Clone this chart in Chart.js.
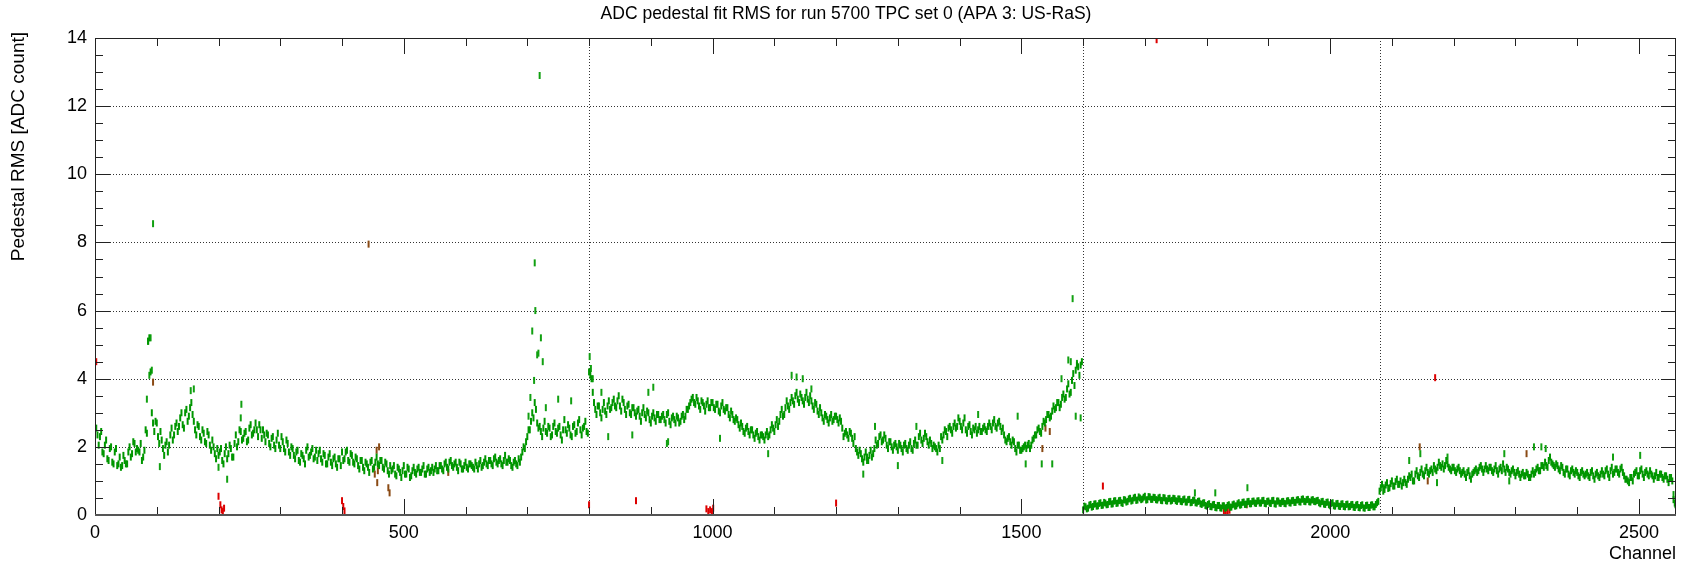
<!DOCTYPE html>
<html>
<head>
<meta charset="utf-8">
<script src="https://cdn.jsdelivr.net/npm/chart.js@4.4.1/dist/chart.umd.min.js"></script>
<style>
  html, body { margin: 0; padding: 0; background: #fff; }
  #wrap { width: 1692px; height: 566px; }
</style>
</head>
<body>
<div id="wrap"><canvas id="rmsChart" width="1692" height="566"></canvas></div>
<script>
// Pedestal RMS per channel: one array for channels 0,4,8,...
// of each plane and one for the channels in between (2,6,10,...)
const channelStep = 4;
const midOffset = 2;
const planeFirstChannel = [0, 800, 1600, 2080];
const channelTicks = [0, 500, 1000, 1500, 2000, 2500];

const rmsPlaneU = [
  2.9, 2.35, 2.3, 1.85, 2.05, 1.65, 1.95, 1.55, 1.85, 1.45,
  1.7, 1.45, 1.6, 1.5, 2.0, 1.8, 2.1, 1.95, 1.85, 1.6,
  1.9, 2.4, 5.2, 3.0, 2.45, 2.7, 2.1, 2.2, 1.75, 2.15,
  2.05, 2.55, 2.35, 2.7, 2.6, 3.0, 2.55, 3.1, 2.9, 3.3,
  2.75, 2.35, 2.6, 2.2, 2.4, 2.1, 2.35, 1.9, 2.0, 1.65,
  1.75, 1.95, 1.5, 2.0, 1.8, 1.95, 1.7, 2.35, 2.15, 2.45,
  2.25, 2.45, 2.2, 2.65, 2.4, 2.7, 2.3, 2.5, 2.5, 2.15,
  2.35, 2.0, 2.3, 1.95, 2.4, 1.95, 2.15, 1.85, 2.1, 1.75,
  1.95, 1.65, 1.9, 1.55, 1.75, 1.5, 2.0, 1.75, 1.95, 1.7,
  1.6, 1.9, 1.55, 1.75, 1.5, 1.8, 1.45, 1.7, 1.4, 1.65,
  1.85, 1.65, 1.9, 1.55, 1.75, 1.5, 1.65, 1.35, 1.6, 1.3,
  1.5, 1.25, 1.6, 1.4, 1.7, 1.45, 1.6, 1.35, 1.5, 1.2,
  1.3, 1.45, 1.15, 1.35, 1.1, 1.45, 1.2, 1.35, 1.15, 1.4,
  1.2, 1.4, 1.25, 1.45, 1.2, 1.4, 1.3, 1.25, 1.45, 1.3,
  1.45, 1.3, 1.55, 1.35, 1.6, 1.4, 1.55, 1.3, 1.5, 1.35,
  1.55, 1.35, 1.5, 1.4, 1.55, 1.35, 1.6, 1.45, 1.65, 1.45,
  1.6, 1.45, 1.7, 1.5, 1.65, 1.45, 1.75, 1.55, 1.6, 1.4,
  1.6, 1.45, 1.55, 1.85, 1.95, 2.3, 2.5, 3.0, 3.3, 2.7,
  2.6, 2.3, 2.75, 2.4, 2.55, 2.35, 2.7, 2.4, 2.6, 2.2,
  2.8, 2.4, 2.55, 2.3, 2.65, 2.45, 2.8, 2.35, 2.6, 2.45
];
const rmsPlaneUMid = [
  2.55, 2.05, 2.45, 1.8, 2.2, 1.6, 2.0, 1.5, 1.95, 1.5,
  1.4, 1.75, 1.5, 1.85, 1.7, 2.15, 1.85, 1.9, 2.1, 1.7,
  2.5, 5.1, 4.2, 2.7, 2.75, 2.3, 2.45, 1.95, 2.05, 1.85,
  2.35, 2.2, 2.6, 2.45, 2.85, 2.65, 3.0, 2.75, 3.15, 2.95,
  2.5, 2.65, 2.3, 2.5, 2.15, 2.45, 2.05, 2.2, 1.8, 1.95,
  1.85, 1.6, 1.8, 1.65, 2.05, 1.7, 2.1, 2.0, 2.5, 2.2,
  2.4, 2.15, 2.55, 2.35, 2.5, 2.5, 2.65, 2.25, 2.35, 2.4,
  2.1, 2.25, 2.05, 2.2, 2.05, 2.3, 1.95, 2.2, 1.85, 2.0,
  1.75, 1.85, 1.6, 1.8, 1.65, 1.9, 1.7, 1.85, 1.65, 1.9,
  1.8, 1.65, 1.8, 1.5, 1.7, 1.55, 1.65, 1.5, 1.65, 1.45,
  1.6, 1.85, 1.6, 1.8, 1.55, 1.7, 1.45, 1.6, 1.4, 1.55,
  1.4, 1.55, 1.35, 1.55, 1.5, 1.6, 1.4, 1.55, 1.3, 1.45,
  1.35, 1.2, 1.4, 1.25, 1.3, 1.2, 1.4, 1.1, 1.3, 1.25,
  1.35, 1.25, 1.35, 1.2, 1.35, 1.25, 1.4, 1.35, 1.3, 1.45,
  1.35, 1.5, 1.4, 1.55, 1.45, 1.5, 1.4, 1.55, 1.35, 1.45,
  1.4, 1.5, 1.45, 1.35, 1.45, 1.5, 1.4, 1.55, 1.5, 1.6,
  1.5, 1.65, 1.55, 1.6, 1.5, 1.6, 1.55, 1.65, 1.45, 1.55,
  1.5, 1.65, 1.7, 2.0, 2.15, 2.5, 2.75, 2.85, 3.1, 2.55,
  2.45, 2.55, 2.45, 2.6, 2.3, 2.6, 2.45, 2.55, 2.35, 2.5,
  2.5, 2.65, 2.35, 2.6, 2.4, 2.7, 2.5, 2.55, 2.75, 2.4
];

const rmsPlaneV = [
  4.2, 4.0, 3.3, 2.95, 3.2, 2.85, 3.3, 2.95, 3.35, 3.15,
  3.4, 3.15, 3.5, 3.05, 3.3, 2.95, 3.25, 2.95, 3.15, 2.9,
  3.1, 2.75, 3.15, 2.85, 3.0, 2.7, 3.0, 2.75, 2.95, 2.8,
  2.95, 2.7, 3.0, 2.65, 2.9, 2.7, 2.85, 2.75, 2.95, 2.9,
  3.1, 3.3, 3.45, 3.25, 3.35, 3.1, 3.3, 3.05, 3.35, 3.15,
  3.3, 3.1, 3.25, 3.0, 3.3, 3.05, 3.15, 2.85, 2.95, 2.75,
  2.8, 2.55, 2.6, 2.4, 2.6, 2.35, 2.5, 2.25, 2.45, 2.2,
  2.35, 2.2, 2.45, 2.35, 2.65, 2.45, 2.8, 2.75, 3.1, 2.95,
  3.35, 3.1, 3.45, 3.25, 3.6, 3.3, 3.45, 3.25, 3.6, 3.3,
  3.35, 3.1, 3.25, 2.95, 3.0, 2.75, 2.9, 2.7, 2.95, 2.8,
  2.9, 2.7, 2.75, 2.3, 2.45, 2.25, 2.4, 2.1, 1.95, 1.75,
  1.8, 1.55, 1.85, 1.6, 1.9, 1.8, 2.2, 2.1, 2.35, 2.2,
  2.25, 1.95, 2.15, 1.9, 2.1, 1.9, 2.05, 1.85, 2.1, 1.9,
  2.15, 1.9, 2.2, 2.05, 2.4, 2.1, 2.4, 2.15, 2.2, 1.95,
  2.0, 1.85, 1.95, 2.2, 2.5, 2.3, 2.6, 2.4, 2.7, 2.6,
  2.75, 2.5, 2.85, 2.4, 2.65, 2.35, 2.5, 2.4, 2.6, 2.45,
  2.6, 2.45, 2.7, 2.5, 2.8, 2.55, 2.75, 2.45, 2.35, 2.15,
  2.3, 2.05, 2.15, 1.85, 2.05, 1.9, 2.0, 1.95, 2.1, 2.05,
  2.25, 2.35, 2.55, 2.4, 2.75, 2.8, 2.95, 2.9, 3.2, 3.15,
  3.3, 3.25, 3.55, 3.45, 3.85, 3.6, 4.15, 4.25, 4.35, 4.4
];
const rmsPlaneVMid = [
  4.1, 3.6, 3.1, 3.2, 3.0, 3.1, 3.05, 3.2, 3.1, 3.3,
  3.2, 3.35, 3.2, 3.4, 3.1, 3.2, 3.0, 3.15, 3.0, 3.05,
  2.9, 3.0, 2.95, 3.05, 2.8, 2.9, 2.85, 2.95, 2.8, 2.9,
  2.8, 2.95, 2.75, 2.85, 2.8, 2.9, 2.7, 2.9, 2.8, 3.1,
  3.2, 3.4, 3.3, 3.45, 3.2, 3.35, 3.2, 3.25, 3.15, 3.3,
  3.15, 3.25, 3.05, 3.2, 3.1, 3.15, 2.95, 3.05, 2.8, 2.85,
  2.65, 2.7, 2.45, 2.55, 2.45, 2.5, 2.35, 2.4, 2.3, 2.35,
  2.3, 2.35, 2.3, 2.5, 2.55, 2.65, 2.6, 2.95, 2.9, 3.15,
  3.2, 3.3, 3.35, 3.5, 3.4, 3.55, 3.35, 3.45, 3.4, 3.5,
  3.2, 3.3, 3.05, 3.15, 2.85, 2.95, 2.8, 2.85, 2.75, 2.9,
  2.8, 2.85, 2.55, 2.4, 2.35, 2.45, 2.25, 2.3, 1.85, 1.9,
  1.65, 1.7, 1.7, 1.75, 1.7, 1.95, 2.05, 2.3, 2.15, 2.35,
  2.05, 2.15, 2.0, 2.05, 2.0, 2.1, 1.95, 2.05, 1.95, 2.05,
  1.95, 2.1, 2.05, 2.3, 2.2, 2.25, 2.3, 2.05, 2.1, 2.05,
  1.95, 2.05, 2.3, 2.35, 2.45, 2.55, 2.5, 2.6, 2.55, 2.85,
  2.6, 2.7, 2.5, 2.6, 2.45, 2.55, 2.6, 2.5, 2.45, 2.55,
  2.5, 2.6, 2.6, 2.7, 2.6, 2.7, 2.6, 2.55, 2.2, 2.25,
  2.15, 2.2, 1.95, 2.05, 1.9, 1.95, 2.05, 2.05, 1.95, 2.2,
  2.35, 2.5, 2.45, 2.6, 2.7, 2.95, 2.85, 3.05, 3.1, 3.3,
  3.15, 3.45, 3.4, 3.7, 3.55, 3.95, 3.8, 4.4, 4.1, 4.5
];

const rmsPlaneZ1 = [
  0.15, 0.24, 0.2, 0.31, 0.25, 0.33, 0.27, 0.36, 0.29, 0.35,
  0.31, 0.4, 0.33, 0.42, 0.35, 0.43, 0.34, 0.44, 0.4, 0.49,
  0.43, 0.52, 0.44, 0.5, 0.47, 0.55, 0.45, 0.53, 0.46, 0.51,
  0.44, 0.52, 0.42, 0.5, 0.41, 0.49, 0.43, 0.48, 0.4, 0.47,
  0.39, 0.47, 0.38, 0.46, 0.37, 0.44, 0.35, 0.41, 0.31, 0.36,
  0.26, 0.33, 0.24, 0.31, 0.21, 0.28, 0.2, 0.27, 0.22, 0.3,
  0.23, 0.32, 0.27, 0.36, 0.3, 0.38, 0.32, 0.4, 0.33, 0.41,
  0.34, 0.42, 0.35, 0.43, 0.33, 0.41, 0.34, 0.43, 0.32, 0.41,
  0.34, 0.4, 0.33, 0.42, 0.35, 0.43, 0.37, 0.45, 0.38, 0.47,
  0.39, 0.46, 0.38, 0.45, 0.39, 0.43, 0.33, 0.4, 0.31, 0.38,
  0.27, 0.36, 0.26, 0.34, 0.25, 0.33, 0.24, 0.32, 0.25, 0.31,
  0.22, 0.31, 0.21, 0.3, 0.2, 0.29, 0.22, 0.3, 0.24, 0.36
];
const rmsPlaneZ1Mid = [
  0.26, 0.18, 0.29, 0.23, 0.32, 0.26, 0.34, 0.28, 0.37, 0.3,
  0.39, 0.32, 0.41, 0.34, 0.42, 0.36, 0.45, 0.38, 0.47, 0.41,
  0.5, 0.43, 0.53, 0.45, 0.52, 0.44, 0.54, 0.46, 0.52, 0.45,
  0.5, 0.43, 0.51, 0.42, 0.48, 0.41, 0.49, 0.42, 0.47, 0.4,
  0.45, 0.38, 0.45, 0.36, 0.43, 0.36, 0.4, 0.33, 0.35, 0.28,
  0.31, 0.25, 0.3, 0.22, 0.28, 0.21, 0.27, 0.2, 0.28, 0.23,
  0.3, 0.26, 0.33, 0.29, 0.37, 0.31, 0.39, 0.33, 0.4, 0.35,
  0.41, 0.35, 0.42, 0.34, 0.4, 0.35, 0.42, 0.33, 0.41, 0.35,
  0.39, 0.34, 0.41, 0.36, 0.42, 0.37, 0.44, 0.39, 0.46, 0.4,
  0.45, 0.39, 0.44, 0.4, 0.42, 0.36, 0.39, 0.32, 0.37, 0.3,
  0.34, 0.27, 0.33, 0.26, 0.32, 0.25, 0.31, 0.24, 0.3, 0.23,
  0.29, 0.22, 0.28, 0.21, 0.28, 0.22, 0.29, 0.24, 0.31, 0.4
];

const rmsPlaneZ2 = [
  0.7, 0.9, 0.75, 0.95, 0.8, 1.0, 0.85, 1.05, 0.9, 0.85,
  1.05, 0.9, 1.15, 1.2, 1.0, 1.3, 1.1, 1.35, 1.15, 1.4,
  1.2, 1.35, 1.45, 1.3, 1.55, 1.4, 1.35, 1.6, 1.4, 1.3,
  1.4, 1.25, 1.4, 1.2, 1.3, 1.1, 1.3, 1.05, 1.25, 1.35,
  1.3, 1.45, 1.25, 1.45, 1.3, 1.4, 1.25, 1.45, 1.2, 1.4,
  1.5, 1.25, 1.35, 1.2, 1.35, 1.15, 1.3, 1.1, 1.25, 1.15,
  1.2, 1.1, 1.3, 1.25, 1.4, 1.3, 1.45, 1.55, 1.4, 1.7,
  1.5, 1.4, 1.45, 1.3, 1.4, 1.2, 1.35, 1.15, 1.35, 1.2,
  1.25, 1.1, 1.3, 1.15, 1.25, 1.1, 1.3, 1.05, 1.25, 1.1,
  1.3, 1.15, 1.35, 1.1, 1.4, 1.25, 1.35, 1.2, 1.4, 1.15,
  1.05, 0.95, 1.1, 1.2, 1.3, 1.15, 1.35, 1.1, 1.3, 1.15,
  1.2, 1.05, 1.25, 1.1, 1.2, 1.05, 1.15, 0.95, 1.1, 0.45
];
const rmsPlaneZ2Mid = [
  0.8, 0.7, 0.88, 0.78, 0.92, 0.85, 0.98, 0.9, 1.0, 0.95,
  0.95, 1.05, 1.1, 1.0, 1.2, 1.15, 1.25, 1.2, 1.3, 1.25,
  1.3, 1.25, 1.35, 1.4, 1.45, 1.5, 1.45, 1.5, 1.35, 1.4,
  1.3, 1.35, 1.3, 1.25, 1.2, 1.25, 1.15, 1.2, 1.3, 1.25,
  1.4, 1.35, 1.35, 1.35, 1.4, 1.3, 1.35, 1.3, 1.35, 1.3,
  1.35, 1.4, 1.25, 1.3, 1.25, 1.25, 1.2, 1.2, 1.15, 1.25,
  1.1, 1.2, 1.2, 1.35, 1.3, 1.45, 1.4, 1.45, 1.6, 1.55,
  1.45, 1.5, 1.35, 1.45, 1.25, 1.35, 1.2, 1.3, 1.25, 1.3,
  1.15, 1.25, 1.2, 1.2, 1.15, 1.25, 1.15, 1.2, 1.15, 1.2,
  1.2, 1.3, 1.2, 1.3, 1.2, 1.35, 1.25, 1.35, 1.25, 1.05,
  1.0, 1.1, 1.0, 1.25, 1.15, 1.3, 1.2, 1.25, 1.2, 1.3,
  1.15, 1.15, 1.1, 1.2, 1.1, 1.15, 1.05, 1.1, 1.0, 0.35
];

// isolated green channels away from the band
const outlierChannels = [84, 86, 88, 90, 92, 94, 105, 155, 160, 200, 214, 236, 237,
  702, 705, 708, 711, 712, 713, 716, 718, 720, 722, 725, 730, 750, 771,
  801, 803, 806, 820, 831, 870, 896, 904, 926, 928, 1012, 1090, 1128, 1136, 1146, 1160,
  1244, 1250, 1263, 1300, 1330, 1372, 1430, 1494, 1507, 1533, 1550, 1565, 1576, 1580,
  1583, 1588, 1590, 1596, 1781, 1814, 1866, 2087, 2128, 2146, 2173, 2190, 2282, 2290,
  2330, 2342, 2349, 2458, 2502, 2556, 2559];
const outlierValues = [3.4, 5.1, 4.1, 5.2, 4.25, 8.55, 1.42, 3.65, 3.7, 1.4, 1.05, 2.85, 3.25,
  2.9, 3.45, 5.4, 3.95, 7.4, 6.0, 4.7, 4.75, 12.9, 5.2, 4.5, 3.15, 3.4, 3.35,
  4.65, 4.3, 4.0, 3.6, 2.3, 2.35, 3.6, 3.75, 2.1, 2.15, 2.25, 1.8, 4.1, 4.05, 4.0, 3.7,
  1.2, 1.6, 2.6, 1.45, 2.6, 1.6, 2.95, 2.9, 1.5, 1.5, 1.5, 4.0, 4.55, 4.5,
  6.35, 2.9, 4.45, 2.85, 0.65, 0.65, 0.8, 0.8, 1.6, 1.8, 0.95, 1.7, 1.8, 1.0,
  2.0, 2.0, 1.95, 1.7, 1.75, 0.6, 0.3];

// red flagged channels
const redChannels = [0, 2, 200, 203, 205, 207, 209, 400, 402, 404, 800, 876, 990, 993, 996, 999, 1001,
  1200, 1632, 1719, 1828, 1831, 1834, 1837, 2170];
const redValues = [0.15, 4.5, 0.55, 0.3, 0.15, 0.1, 0.2, 0.42, 0.25, 0.12, 0.3, 0.42, 0.18, 0.1, 0.15, 0.1, 0.2,
  0.35, 0.85, 13.95, 0.12, 0.08, 0.1, 0.14, 4.03];

// brown flagged channels
const brownChannels = [94, 443, 453, 456, 457, 458, 460, 475, 477, 572, 1534, 1539, 1546, 1865, 2145, 2158, 2318];
const brownValues = [3.9, 7.95, 1.2, 1.9, 0.95, 1.3, 2.0, 0.8, 0.65, 1.25, 1.95, 2.55, 2.45, 0.3, 2.0, 1.0, 1.8];

const planeBoundaries = [800, 1600, 2080];

// build the point lists
const planes = [rmsPlaneU, rmsPlaneV, rmsPlaneZ1, rmsPlaneZ2];
const planesMid = [rmsPlaneUMid, rmsPlaneVMid, rmsPlaneZ1Mid, rmsPlaneZ2Mid];
const bandPoints = [];
planes.forEach((vals, p) => {
  vals.forEach((v, i) => bandPoints.push({ x: planeFirstChannel[p] + i * channelStep, y: v }));
  planesMid[p].forEach((v, i) => bandPoints.push({ x: planeFirstChannel[p] + midOffset + i * channelStep, y: v }));
});
const pairUp = (xs, ys) => xs.map((x, i) => ({ x: x, y: ys[i] }));

const tickFont = { family: 'Liberation Sans', size: 18 };

function markStyle(color) {
  return {
    pointStyle: 'line',
    rotation: 90,
    pointRadius: 3.5,
    borderWidth: 2,
    borderColor: color,
    backgroundColor: color,
    showLine: false
  };
}

// ROOT-like frame, ticks and dotted grid
const rootFrame = {
  id: 'rootFrame',
  beforeDatasetsDraw(chart) {
    const { ctx, chartArea: a, scales: { x, y } } = chart;
    ctx.save();
    ctx.strokeStyle = '#333';
    ctx.lineWidth = 1;
    ctx.setLineDash([1, 2]);
    for (let v = 2; v <= 12; v += 2) {
      const py = Math.round(y.getPixelForValue(v)) + 0.5;
      ctx.beginPath(); ctx.moveTo(a.left, py); ctx.lineTo(a.right, py); ctx.stroke();
    }
    planeBoundaries.forEach(c => {
      const px = Math.round(x.getPixelForValue(c)) + 0.5;
      ctx.beginPath(); ctx.moveTo(px, a.top); ctx.lineTo(px, a.bottom); ctx.stroke();
    });
    ctx.restore();
  },
  afterDatasetsDraw(chart) {
    const { ctx, chartArea: a, scales: { x, y } } = chart;
    ctx.save();
    ctx.strokeStyle = '#222';
    ctx.lineWidth = 1;
    ctx.strokeRect(a.left + 0.5, a.top + 0.5, a.right - a.left - 1, a.bottom - a.top - 1);
    ctx.beginPath();
    for (let c = 0; c <= 2560; c += 100) {
      const px = Math.round(x.getPixelForValue(c)) + 0.5;
      const len = c % 500 === 0 ? 16 : 8;
      ctx.moveTo(px, a.bottom); ctx.lineTo(px, a.bottom - len);
      ctx.moveTo(px, a.top); ctx.lineTo(px, a.top + len);
    }
    for (let v = 0; v <= 14; v += 0.5) {
      const py = Math.round(y.getPixelForValue(v)) + 0.5;
      const len = v % 2 === 0 ? 15 : 8;
      ctx.moveTo(a.left, py); ctx.lineTo(a.left + len, py);
      ctx.moveTo(a.right, py); ctx.lineTo(a.right - len, py);
    }
    ctx.stroke();
    // heavier bottom axis line
    ctx.strokeStyle = '#555';
    ctx.lineWidth = 2;
    ctx.beginPath(); ctx.moveTo(a.left, a.bottom); ctx.lineTo(a.right, a.bottom); ctx.stroke();
    ctx.restore();
  },
  afterDraw(chart) {
    const { ctx, chartArea: a, scales: { x } } = chart;
    ctx.save();
    ctx.fillStyle = '#000';
    ctx.font = '17.5px "Liberation Sans"';
    ctx.textAlign = 'center';
    ctx.textBaseline = 'middle';
    ctx.fillText('ADC pedestal fit RMS for run 5700 TPC set 0 (APA 3: US-RaS)', chart.width / 2, 14);
    // channel labels under the axis, placed through the x scale
    ctx.font = '18px "Liberation Sans"';
    ctx.textBaseline = 'top';
    channelTicks.forEach(c => ctx.fillText(String(c), x.getPixelForValue(c), a.bottom + 9));
    ctx.textBaseline = 'middle';
    ctx.textAlign = 'right';
    ctx.fillText('Channel', a.right, 554);
    ctx.translate(19, a.top - 6);
    ctx.rotate(-Math.PI / 2);
    ctx.font = '19px "Liberation Sans"';
    ctx.fillText('Pedestal RMS [ADC count]', 0, 0);
    ctx.restore();
  }
};

new Chart(document.getElementById('rmsChart').getContext('2d'), {
  type: 'scatter',
  data: {
    datasets: [
      Object.assign({ label: 'band', data: bandPoints }, markStyle('#009600')),
      Object.assign({ label: 'outliers', data: pairUp(outlierChannels, outlierValues) }, markStyle('#11a011')),
      Object.assign({ label: 'brown', data: pairUp(brownChannels, brownValues) }, markStyle('#8a4a14')),
      Object.assign({ label: 'red', data: pairUp(redChannels, redValues) }, markStyle('#dd0000'))
    ]
  },
  options: {
    responsive: false,
    animation: false,
    events: [],
    layout: { padding: { top: 38, right: 16, left: 0, bottom: 0 } },
    plugins: { legend: { display: false }, tooltip: { enabled: false }, title: { display: false } },
    scales: {
      x: {
        type: 'linear',
        min: 0,
        max: 2560,
        grid: { display: false, drawTicks: false },
        border: { display: false },
        ticks: { display: false },
        afterFit: s => { s.height = 51; }
      },
      y: {
        min: 0,
        max: 14,
        grid: { display: false, drawTicks: false },
        border: { display: false },
        ticks: { stepSize: 2, font: tickFont, color: '#000', padding: 8 },
        afterFit: s => { s.width = 95; }
      }
    }
  },
  plugins: [rootFrame]
});
</script>
</body>
</html>
